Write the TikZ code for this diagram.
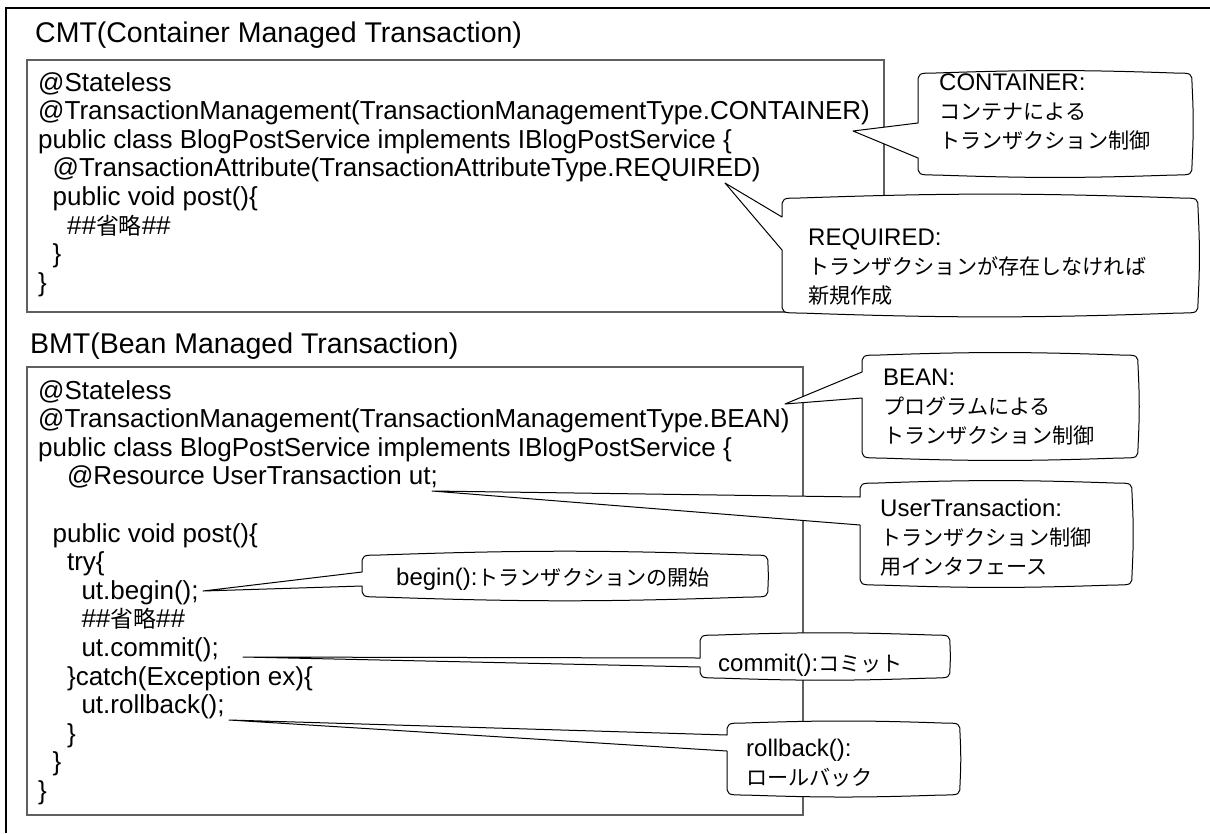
\documentclass[tikz,border=0pt]{standalone}
\usepackage{fontspec}
\setmainfont{Liberation Sans}
\newfontfamily\jp[Scale=0.88]{Noto Sans CJK JP}
\usepackage{tikz}
\usetikzlibrary{positioning,calc}
\definecolor{BoxGrey}{RGB}{95,95,95}

\newcommand\ind[1]{\hspace*{#1\fontdimen2\font}}
% left, top, right, bottom, tip, upper/lower foot of the wedge
\newcommand\bubble[7]{%
  \draw[balloon] (#1,#6) -- (#5) -- (#1,#7) -- (#1,#4-11)
    .. controls (#1,#4) .. (#1+18,#4) to[bend right=2] (#3-18,#4)
    .. controls (#3,#4) .. (#3,#4-11) to[bend right=3] (#3,#2+11)
    .. controls (#3,#2) .. (#3-18,#2) to[bend right=2] (#1+18,#2)
    .. controls (#1,#2) .. (#1,#2+11) -- cycle;}

\tikzset{
  codebox/.style={draw=BoxGrey, line width=1.3pt},
  codetext/.style={anchor=north west, inner sep=0pt, align=left, font=\fontsize{26}{28.6}\selectfont},
  heading/.style={anchor=base west, inner sep=0pt, font=\fontsize{28.5}{32}\selectfont},
  note/.style={anchor=north west, inner sep=0pt, align=left, font=\fontsize{24}{29}\selectfont},
  balloon/.style={draw, fill=white, line width=1pt, line join=round},
}

\begin{document}
\begin{tikzpicture}[x=1pt, y=-1pt]
  \useasboundingbox (0,0) rectangle (1210,833);
  \draw[line width=2pt] (6,833) -- (6,8) -- (1210,8);

  % CMT
  \node[heading] (cmt) at (35,42) {CMT(Container Managed Transaction)};
  \draw[codebox] (27,60) rectangle (884,312);
  \node[codetext] (cmtcode) at (38,72) {@Stateless\\
    @TransactionManagement(TransactionManagementType.CONTAINER)\\
    public class BlogPostService implements IBlogPostService \{\\
    \ind{2}@TransactionAttribute(TransactionAttributeType.REQUIRED)\\
    \ind{2}public void post()\{\\
    \ind{4}\#\#{\jp 省略}\#\#\\
    \ind{2}\}\\
    \}};

  % BMT
  \node[heading] (bmt) at (30,353) {BMT(Bean Managed Transaction)};
  \draw[codebox] (27,367) rectangle (803,815);
  \node[codetext] (bmtcode) at (38,380) {@Stateless\\
    @TransactionManagement(TransactionManagementType.BEAN)\\
    public class BlogPostService implements IBlogPostService \{\\
    \ind{4}@Resource UserTransaction ut;\\
    \mbox{}\\
    \ind{2}public void post()\{\\
    \ind{4}try\{\\
    \ind{6}ut.begin();\\
    \ind{6}\#\#{\jp 省略}\#\#\\
    \ind{6}ut.commit();\\
    \ind{4}\}catch(Exception ex)\{\\
    \ind{6}ut.rollback();\\
    \ind{4}\}\\
    \ind{2}\}\\
    \}};

  % callouts
  \coordinate (tcont) at (853,131);
  \coordinate (treq) at (725,183);
  \coordinate (tbean) at (785,404);
  \coordinate (tut) at (432,491);
  \coordinate (tbegin) at (203,591);
  \coordinate (tcommit) at (243,657);
  \coordinate (troll) at (229,720);

  \bubble{918}{73}{1192}{175}{tcont}{123}{158}
  \node[note] (ccont) at (939,74) {CONTAINER:\\{\jp コンテナによる}\\{\jp トランザクション制御}};

  \bubble{782}{198}{1198}{313}{treq}{217}{250}
  \node[note] (creq) at (808,229) {REQUIRED:\\{\jp トランザクションが存在しなければ}\\{\jp 新規作成}};

  \bubble{862}{355}{1138}{458}{tbean}{372}{398}
  \node[note] (cbean) at (883,369) {BEAN:\\{\jp プログラムによる}\\{\jp トランザクション制御}};

  \bubble{860}{483}{1132}{585}{tut}{497}{525}
  \node[note] (cut) at (880,499) {UserTransaction:\\{\jp トランザクション制御}\\{\jp 用インタフェース}};

  \bubble{362}{555}{768}{597}{tbegin}{572}{586}
  \node[note, anchor=base west] (cbegin) at (396,585) {begin():{\jp トランザクションの開始}};

  \bubble{700}{635}{950}{678}{tcommit}{658}{667}
  \node[note, anchor=base west] (ccommit) at (718,671) {commit():{\jp コミット}};

  \bubble{727}{723}{960}{795}{troll}{735}{751}
  \node[note] (croll) at (746,739) {rollback():\\{\jp ロールバック}};
\end{tikzpicture}
\end{document}
